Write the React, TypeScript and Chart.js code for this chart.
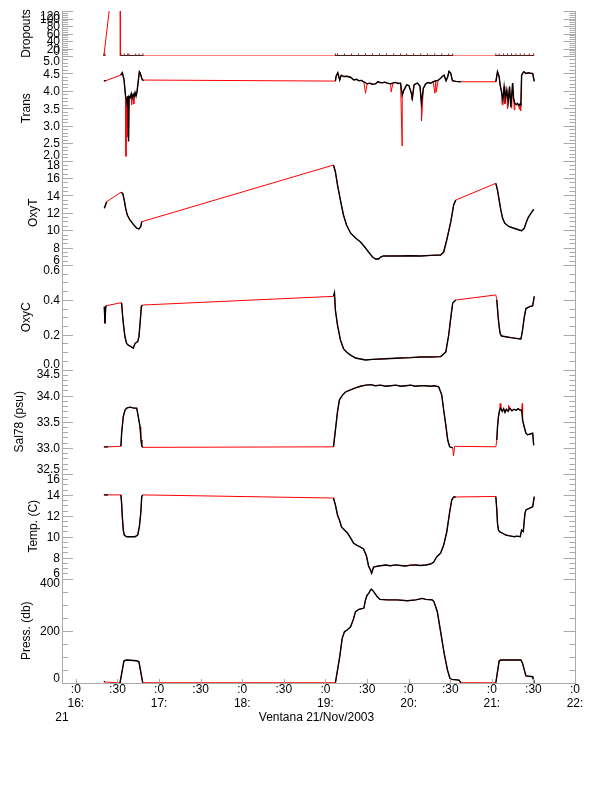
import React, { useEffect, useRef } from 'react';
import { Chart, registerables } from 'chart.js';
Chart.register(...registerables);

// ---- DATA (time = minutes after 16:00, 21 Nov 2003) ----
const xTickMinutes = [0, 30, 60, 90, 120, 150, 180, 210, 240, 270, 300, 330, 360];
const xMinuteLabels = [':0', ':30', ':0', ':30', ':0', ':30', ':0', ':30', ':0', ':30', ':0', ':30', ':0'];
const xHourLabels = ['16:', '', '17:', '', '18:', '', '19:', '', '20:', '', '21:', '', '22:'];
const dayLabel = '21';
const xTitle = 'Ventana 21/Nov/2003';

const dropRedTimes = [20.2, 25.3, 32.0, 32.1, 48.4, 185.8, 277.6, 302.9, 330.6];
const dropRedValues = [0, 160, 160, 0, 0, 0, 0, 0, 0];
const dropTimes = [20.2, 21.0, 27, 32.5, 34.9, 37.4, 38.3, 43.2, 45.5, 48.4, 120,
  187.2, 188.7, 193.7, 198.8, 203.9, 208.9, 214.0, 219.0, 224.1, 229.2, 234.2, 238.6, 243.6, 248.7, 253.7, 258.8, 263.9, 268.9, 271.8, 290,
  302.9, 305.3, 308.5, 311.3, 314.2, 317.4, 320.5, 323.4, 327.0, 330.2];
const dropValues = [0, 0, null, 0, 0, 0, 0, 0, 0, 0, null,
  0, 0, 0, 0, 0, 0, 0, 0, 0, 0, 0, 0, 0, 0, 0, 0, 0, 0, 0, null,
  0, 0, 0, 0, 0, 0, 0, 0, 0, 0];

const transTimes = [20.2, 21.5, 27, 32.3, 33.5, 34.7, 35.9, 36.6, 37.1, 37.6, 38.0, 38.4, 39.2, 40.0, 40.7, 41.4, 42.0, 42.7, 43.4, 44.1, 45.0, 45.8, 46.3, 47.9, 48.4, 120,
  187.2, 187.7, 188.9, 190.3, 191.4, 193.2, 195.5, 198.1, 200.5, 202.5, 204.1, 206.0, 207.7, 210.1, 212.0, 213.7, 216.1, 217.8, 219.5, 221.0,
  222.8, 224.6, 227.0, 228.8, 230.6, 232.4, 234.2, 235.4, 236.6, 238.6, 240.2, 242.0, 242.7, 243.9, 245.0, 246.3, 248.2, 249.2, 250.6, 252.3,
  254.0, 255.9, 257.6, 259.5, 261.2, 263.1, 264.4, 265.6, 267.0, 268.2, 269.1, 270.4, 271.6, 274.0, 277.6, 290,
  302.9, 304.1, 305.3, 306.0, 307.0, 308.0, 308.9, 309.9, 310.8, 311.8, 312.8, 313.7, 315.0, 315.7, 316.6, 317.6, 318.5, 319.5, 320.5, 321.0,
  321.5, 323.0, 324.6, 326.5, 328.2, 329.5, 330.6];
const transValues = [4.29, 4.29, null, 4.45, 4.52, 4.33, 3.83, 3.75, 3.56, 3.85, 2.55, 3.84, 3.8, 3.92, 3.8, 3.9, 3.84, 3.95, 3.85, 3.97, 4.28, 4.55, 4.52, 4.32, 4.31, null,
  4.28, 4.42, 4.52, 4.31, 4.45, 4.41, 4.42, 4.39, 4.31, 4.33, 4.29, 4.3, 4.26, 4.2, 4.22, 4.19, 4.2, 4.26, 4.24, 4.23,
  4.25, 4.22, 4.2, 4.23, 4.24, 4.21, 4.22, 3.88, 4.02, 4.17, 4.15, 3.93, 3.79, 4.17, 4.2, 4.22, 4.14, 3.64, 4.07, 4.2,
  4.24, 4.22, 4.26, 4.29, 4.3, 4.36, 4.42, 4.45, 4.29, 4.4, 4.56, 4.5, 4.29, 4.27, 4.26, null,
  4.26, 4.55, 4.41, 4.17, 3.97, 3.74, 4.12, 3.79, 4.02, 3.69, 4.12, 3.54, 4.22, 3.79, 3.64, 3.6, 3.64, 3.58, 3.63, 3.6,
  4.45, 4.55, 4.5, 4.52, 4.5, 4.5, 4.27];
const transSpikeTimes = [36.1, 36.9, 40.2, 41.8, 208.9, 227.4, 235.3, 242.4, 249.3, 259.0, 260.0, 307.4, 309.4, 311.3, 314.3, 316.2, 319.9, 320.8];
const transSpikeValues = [2.12, 2.68, 3.6, 3.62, 3.93, 3.97, 2.42, 3.75, 3.14, 3.93, 3.97, 3.6, 3.62, 3.48, 3.5, 3.45, 3.47, 3.42];

const oxyTTimes = [20.5, 21.4, 22.2, 27, 32.5, 33.8, 34.9, 35.9, 37.1, 39.0, 41.4, 43.9, 45.5, 46.8, 47.5, 120,
  185.8, 187.2, 188.7, 190.8, 193.0, 195.2, 198.1, 201.7, 205.3, 208.9, 211.1, 214.0, 216.1, 218.3, 219.8, 221.9, 227.0, 234.2, 241.0, 248.7,
  256.0, 263.1, 265.3, 267.5, 270.4, 272.5, 274.0, 290,
  302.9, 304.1, 305.3, 306.5, 307.8, 309.4, 312.5, 316.1, 319.7, 321.5, 323.4, 324.6, 326.3, 328.2, 330.2];
const oxyTValues = [12.51, 12.9, 13.27, null, 14.35, 14.23, 13.46, 12.51, 11.74, 11.17, 10.68, 10.22, 10.14, 10.4, 10.97, null,
  17.48, 16.68, 15.19, 13.46, 11.74, 10.6, 9.68, 9.1, 8.64, 7.95, 7.49, 6.92, 6.69, 6.69, 6.92, 7.04, 7.04, 7.04, 7.06, 7.04,
  7.1, 7.15, 7.49, 8.87, 10.94, 12.89, 13.46, null,
  15.38, 14.61, 13.46, 12.32, 11.36, 10.79, 10.4, 10.22, 10.02, 9.94, 10.22, 10.79, 11.48, 11.94, 12.4];

const oxyCTimes = [20.5, 21.0, 21.5, 21.7, 27, 32.5, 33.0, 33.8, 34.5, 35.4, 36.6, 37.8, 39.8, 41.4, 42.7, 44.6, 45.5, 46.5, 47.2, 47.9, 120,
  185.8, 186.5, 187.2, 188.7, 190.8, 193.0, 195.2, 198.1, 201.7, 208.9, 214.0, 219.8, 227.0, 234.2, 241.0, 248.7, 256.0, 263.1, 266.8, 268.9,
  270.4, 271.8, 274.0, 290,
  303.6, 304.6, 305.3, 306.0, 307.0, 310.1, 313.7, 317.4, 321.0, 322.2, 323.4, 324.6, 327.0, 329.5, 330.2, 330.6];
const oxyCValues = [0.36, 0.265, 0.36, 0.366, null, 0.383, 0.38, 0.30, 0.246, 0.188, 0.15, 0.14, 0.131, 0.122, 0.15, 0.16, 0.188, 0.284, 0.36, 0.37, null,
  0.42, 0.44, 0.34, 0.255, 0.17, 0.12, 0.10, 0.083, 0.066, 0.055, 0.058, 0.06, 0.063, 0.066, 0.068, 0.072, 0.072, 0.074, 0.10, 0.198,
  0.296, 0.382, 0.399, null,
  0.40, 0.30, 0.246, 0.208, 0.192, 0.188, 0.183, 0.179, 0.175, 0.227, 0.30, 0.35, 0.36, 0.366, 0.40, 0.42];
const oxyCSpikeTimes = [302.9];
const oxyCSpikeValues = [0.428];

const salTimes = [20.2, 23.3, 28, 32.5, 33.0, 34.2, 35.4, 36.6, 39.0, 42.0, 43.9, 45.0, 46.3, 47.0, 47.5, 48.2, 120,
  185.8, 187.2, 188.7, 190.1, 192.3, 194.5, 198.1, 201.7, 205.3, 209.0, 212.5, 216.0, 219.8, 223.5, 227.0, 231.0, 234.2, 238.0, 241.5, 245.0,
  248.7, 252.0, 255.5, 258.5, 261.7, 263.9, 265.3, 266.8, 268.2, 269.6, 271.8, 290,
  303.6, 304.1, 304.8, 305.6, 306.5, 307.5, 308.5, 309.5, 310.5, 311.8, 313.0, 314.5, 316.0, 317.5, 319.0, 320.5, 321.5, 322.2, 323.4, 324.6,
  325.8, 328.2, 329.5, 330.2];
const salValues = [33.02, 33.02, null, 33.03, 33.28, 33.6, 33.72, 33.76, 33.78, 33.76, 33.76, 33.6, 33.4, 33.15, 33.04, 33.01, null,
  33.02, 33.34, 33.69, 33.92, 34.01, 34.07, 34.11, 34.15, 34.18, 34.2, 34.21, 34.19, 34.2, 34.18, 34.19, 34.2, 34.18, 34.19, 34.2, 34.18,
  34.19, 34.19, 34.18, 34.19, 34.17, 34.01, 33.72, 33.44, 33.15, 33.02, 33.0, null,
  33.15, 33.4, 33.6, 33.72, 33.76, 33.7, 33.75, 33.68, 33.74, 33.7, 33.76, 33.71, 33.74, 33.72, 33.75, 33.72, 33.72, 33.53, 33.4, 33.28,
  33.25, 33.27, 33.28, 33.05];
const salSpikeTimes = [46.8, 272.4, 273.2, 302.9, 306.0, 312.0, 322.0];
const salSpikeValues = [33.2, 32.85, 33.03, 33.02, 33.85, 33.82, 33.85];

const tempTimes = [20.2, 23.3, 28, 32.5, 33.0, 33.5, 34.2, 34.9, 36.6, 39.0, 42.7, 44.6, 45.8, 46.8, 47.5, 48.2, 120,
  185.8, 187.2, 188.7, 190.1, 191.6, 193.7, 195.9, 198.1, 200.2, 202.4, 205.3, 207.5, 209.6, 211.1, 212.5, 213.3, 214.7, 218.3, 221.0, 223.4,
  227.0, 230.6, 234.0, 237.8, 241.5, 245.1, 248.5, 252.3, 255.9, 258.1, 260.2, 263.1, 265.3, 267.5, 269.6, 271.1, 272.5, 274.0, 290,
  302.9, 303.6, 304.1, 304.8, 305.6, 307.8, 310.1, 312.0, 314.0, 316.1, 318.0, 320.5, 321.5, 322.7, 323.9, 324.6, 327.0, 329.5, 330.6];
const tempValues = [14.0, 14.0, null, 14.0, 13.2, 11.9, 10.64, 10.16, 10.0, 10.0, 10.0, 10.16, 10.96, 12.24, 13.83, 14.0, null,
  13.7, 13.03, 12.08, 11.6, 10.93, 10.64, 10.35, 9.88, 9.4, 9.2, 9.01, 8.82, 8.15, 7.2, 6.81, 6.5, 7.1, 7.2, 7.25, 7.29,
  7.22, 7.3, 7.25, 7.2, 7.28, 7.29, 7.24, 7.29, 7.39, 7.58, 8.06, 8.44, 9.2, 10.45, 12.36, 13.51, 13.8, 13.8, null,
  13.85, 12.56, 11.28, 10.64, 10.48, 10.33, 10.16, 10.1, 10.05, 10.0, 10.05, 10.0, 10.64, 10.5, 12.24, 12.56, 12.72, 12.87, 13.83];

const pressTimes = [20.2, 21.0, 26, 31.8, 34.7, 36.6, 43.9, 45.5, 48.2, 120,
  187.2, 190.3, 192.1, 193.7, 195.7, 198.1, 200.0, 201.7, 204.1, 207.7, 208.9, 210.1, 211.3, 212.5, 213.3, 214.9, 217.4, 219.3, 224.6, 231.8,
  239.1, 245.1, 249.9, 252.3, 257.1, 258.3, 260.7, 263.1, 265.6, 268.0, 269.8, 270.9, 276.4, 277.6, 290,
  302.9, 305.3, 306.5, 321.0, 322.2, 324.6, 329.5, 330.6];
const pressValues = [6, 4, null, 0, 85, 88, 85, 81, 1, null,
  1, 100, 171, 196, 203, 215, 241, 273, 282, 286, 318, 337, 343, 356, 359, 349, 330, 320, 318, 318,
  315, 318, 324, 320, 318, 311, 273, 196, 114, 50, 18, 14, 11, 1, null,
  1, 85, 88, 88, 75, 27, 24, 1];

// ---- STYLE / LAYOUT ----
const FONT = '"Liberation Sans", Arial, Helvetica, sans-serif';
const AXIS_GRAY = '#aaaaaa';
const RED = '#ff0000';
const BLACK = '#000000';

// defined bottom -> top (left stacked boxes are placed in reverse order)
const PANELS = [
  { id: 'yPress', title: 'Press. (db)', min: 0, max: 400, major: 200, minor: 50, dec: 0, weight: 104.5, titlePad: 19 },
  { id: 'yTemp', title: 'Temp. (C)', min: 6, max: 16, major: 2, minor: 0.5, dec: 0, weight: 104.5, titlePad: 26 },
  { id: 'ySal', title: 'Sal78 (psu)', min: 32.5, max: 34.5, major: 0.5, minor: 0.1, dec: 1, weight: 104.5, titlePad: 12.6 },
  { id: 'yOxyC', title: 'OxyC', min: 0, max: 0.6, major: 0.2, minor: 0.05, dec: 1, weight: 104.5, titlePad: 19 },
  { id: 'yOxyT', title: 'OxyT', min: 6, max: 18, major: 2, minor: 0.5, dec: 0, weight: 104.5, titlePad: 26 },
  { id: 'yTrans', title: 'Trans', min: 2, max: 5, major: 0.5, minor: 0.1, dec: 1, weight: 104.5, titlePad: 19 },
  { id: 'yDrop', title: 'Dropouts', min: 0, max: 120, major: 20, minor: 5, dec: 0, weight: 45, titlePad: 19 },
];

function pts(times: number[], values: (number | null)[]) {
  return times.map((t, i) => ({ x: t, y: values[i] === undefined ? null : values[i] }));
}
function merged(times: number[], values: (number | null)[], extraT: number[] = [], extraV: number[] = []) {
  const a = pts(times, values).filter((p) => p.y !== null) as { x: number; y: number | null }[];
  extraT.forEach((t, i) => a.push({ x: t, y: extraV[i] }));
  a.sort((p, q) => p.x - q.x);
  return a;
}

function blackSet(axis: string, data: any[], extra: any = {}) {
  return { data, yAxisID: axis, borderColor: BLACK, borderWidth: 1.4, pointRadius: 0, spanGaps: false, tension: 0, order: 0, ...extra };
}
function redSet(axis: string, data: any[]) {
  return { data, yAxisID: axis, borderColor: RED, borderWidth: 1, pointRadius: 0, spanGaps: true, tension: 0, order: 1 };
}

const decorPlugin = {
  id: 'decor',
  beforeDatasetDraw(chart: any, args: any) {
    const ys = chart.scales[args.meta.yAxisID];
    const a = chart.chartArea;
    const ctx = chart.ctx;
    ctx.save();
    ctx.beginPath();
    ctx.rect(a.left, ys.top, a.right - a.left, ys.bottom - ys.top + 3);
    ctx.clip();
  },
  afterDatasetDraw(chart: any) {
    chart.ctx.restore();
  },
  afterDraw(chart: any) {
    const ctx = chart.ctx;
    const a = chart.chartArea;
    ctx.save();
    ctx.strokeStyle = AXIS_GRAY;
    ctx.lineWidth = 1;
    const lx = Math.round(a.left);
    const rx = Math.round(a.right) + 0.5;
    ctx.beginPath();
    ctx.moveTo(rx, a.top);
    ctx.lineTo(rx, a.bottom);
    ctx.stroke();

    ctx.font = `12px ${FONT}`;
    ctx.fillStyle = '#000';
    for (const p of PANELS) {
      const s = chart.scales[p.id];
      const nMinor = Math.round((p.max - p.min) / p.minor);
      ctx.beginPath();
      for (let i = 0; i <= nMinor; i++) {
        const v = p.min + i * p.minor;
        const k = (v - p.min) / p.major;
        const isMajor = Math.abs(k - Math.round(k)) < 1e-6;
        const y = Math.round(s.getPixelForValue(v)) + 0.5;
        const ll = isMajor ? 11 : 6;
        const rl = isMajor ? 12 : 6;
        ctx.moveTo(lx, y);
        ctx.lineTo(lx + ll, y);
        ctx.moveTo(rx, y);
        ctx.lineTo(rx - rl, y);
      }
      ctx.stroke();
      const nMajor = Math.round((p.max - p.min) / p.major);
      ctx.textAlign = 'right';
      ctx.textBaseline = 'middle';
      for (let i = 0; i <= nMajor; i++) {
        const v = p.min + i * p.major;
        let y = s.getPixelForValue(v) + 1;
        if (i === 0) y = s.bottom - 4.5;
        if (i === nMajor) y = s.top + 5.5;
        ctx.fillText(v.toFixed(p.dec), 60, y);
      }
    }
    // x ticks
    const xs = chart.scales.x;
    ctx.beginPath();
    for (const m of xTickMinutes) {
      const x = Math.round(xs.getPixelForValue(m)) + 0.5;
      ctx.moveTo(x, a.bottom);
      ctx.lineTo(x, a.bottom - 4);
    }
    ctx.stroke();
    ctx.textAlign = 'center';
    ctx.textBaseline = 'middle';
    ctx.fillText(dayLabel, a.left, 718);
    ctx.fillText(xTitle, (a.left + a.right) / 2 - 2, 718);
    ctx.restore();
  },
};

export default function App() {
  const ref = useRef<HTMLCanvasElement>(null);
  useEffect(() => {
    const yScales: any = {};
    for (const p of PANELS) {
      yScales[p.id] = {
        type: 'linear',
        position: 'left',
        stack: 'panels',
        stackWeight: p.weight,
        min: p.min,
        max: p.max,
        grid: { display: false, drawTicks: false },
        border: { display: true, color: AXIS_GRAY, width: 1 },
        ticks: { display: false },
        title: {
          display: true,
          text: p.title,
          color: '#000',
          font: { family: FONT, size: 12 },
          padding: { top: p.titlePad, bottom: 0 },
        },
        afterFit: (s: any) => {
          s.width = 62;
          s.paddingTop = 0;
          s.paddingBottom = 0;
        },
      };
    }
    const datasets: any[] = [
      blackSet('yDrop', pts(dropTimes, dropValues), {
        pointRadius: 2.5,
        pointStyle: 'line',
        pointRotation: 90,
        pointBorderColor: '#8a1a1a',
        pointBorderWidth: 1,
      }),
      redSet('yDrop', pts(dropRedTimes, dropRedValues)),
      blackSet('yTrans', pts(transTimes, transValues)),
      redSet('yTrans', merged(transTimes, transValues, transSpikeTimes, transSpikeValues)),
      blackSet('yOxyT', pts(oxyTTimes, oxyTValues)),
      redSet('yOxyT', merged(oxyTTimes, oxyTValues)),
      blackSet('yOxyC', pts(oxyCTimes, oxyCValues)),
      redSet('yOxyC', merged(oxyCTimes, oxyCValues, oxyCSpikeTimes, oxyCSpikeValues)),
      blackSet('ySal', pts(salTimes, salValues)),
      redSet('ySal', merged(salTimes, salValues, salSpikeTimes, salSpikeValues)),
      blackSet('yTemp', pts(tempTimes, tempValues)),
      redSet('yTemp', merged(tempTimes, tempValues)),
      blackSet('yPress', pts(pressTimes, pressValues)),
      redSet('yPress', merged(pressTimes, pressValues)),
    ];
    const chart = new Chart(ref.current as HTMLCanvasElement, {
      type: 'line',
      data: { datasets },
      options: {
        animation: false,
        responsive: false,
        events: [],
        layout: { padding: { left: 0, right: 37, top: 11, bottom: 0 } },
        plugins: { legend: { display: false }, tooltip: { enabled: false } },
        scales: {
          x: {
            type: 'linear',
            position: 'bottom',
            min: -10,
            max: 360,
            grid: { display: false, drawTicks: false },
            border: { display: true, color: AXIS_GRAY, width: 1 },
            afterBuildTicks: (s: any) => {
              s.ticks = xTickMinutes.map((v) => ({ value: v }));
            },
            ticks: {
              autoSkip: false,
              maxRotation: 0,
              minRotation: 0,
              padding: 0,
              color: '#000',
              font: { family: FONT, size: 12, lineHeight: '14px' },
              callback: (v: any) => {
                const i = xTickMinutes.indexOf(Number(v));
                if (i < 0) return '';
                return xHourLabels[i] ? [xMinuteLabels[i], xHourLabels[i]] : [xMinuteLabels[i]];
              },
            },
            afterFit: (s: any) => {
              s.height = 102;
              s.paddingLeft = 0;
              s.paddingRight = 0;
            },
          },
          ...yScales,
        },
      } as any,
      plugins: [decorPlugin],
    });
    return () => chart.destroy();
  }, []);
  return (
    <div style={{ position: 'fixed', left: 0, top: 0, width: 612, height: 785, background: '#fff' }}>
      <canvas ref={ref} width={612} height={785} style={{ display: 'block', width: 612, height: 785 }} />
    </div>
  );
}
